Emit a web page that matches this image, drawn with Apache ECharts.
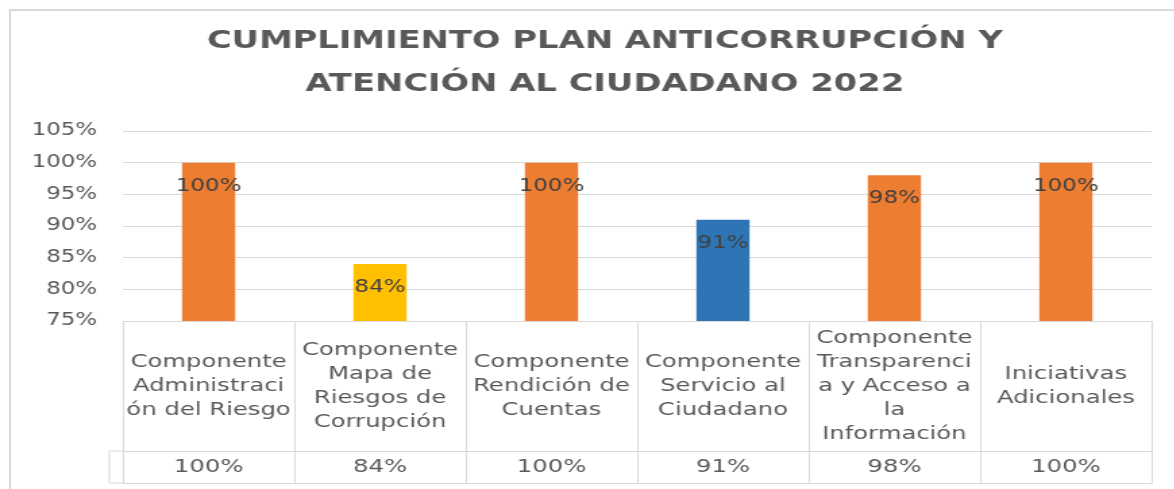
<!DOCTYPE html>
<html lang="es">
<head>
    <meta charset="UTF-8">
    <title>Cumplimiento Plan Anticorrupción</title>
    <script src="https://cdn.jsdelivr.net/npm/echarts@6/dist/echarts.min.js"></script>
    <style>
        html, body { margin: 0; padding: 0; background: #fff; overflow: hidden; }
        #frame {
            position: absolute; left: 9px; top: 9px; width: 1200px; height: 520px;
            border-left: 2px solid #d9d9d9; border-top: 2px solid #d9d9d9;
        }
        /* el original esta estirado a lo ancho */
        #chart {
            position: absolute; left: 0; top: 0; width: 870px; height: 489px;
            transform: scaleX(1.35); transform-origin: 0 0;
        }
    </style>
</head>
<body>
<div id="frame"></div>
<div id="chart"></div>
<script>
    const categories = [
        'Componente\nAdministraci\nón del Riesgo',
        'Componente\nMapa de\nRiesgos de\nCorrupción',
        'Componente\nRendición de\nCuentas',
        'Componente\nServicio al\nCiudadano',
        'Componente\nTransparenci\na y Acceso a\nla\nInformación',
        'Iniciativas\nAdicionales'
    ]
    const values = [100, 84, 100, 91, 98, 100]
    const barColors = ['#ED7D31', '#FFC000', '#ED7D31', '#2E75B6', '#ED7D31', '#ED7D31']
    const valueLabels = values.map(v => v + '%')

    const font = 'DejaVu Sans'
    const grey = '#595959'
    const lineColor = '#d9d9d9'
    // posiciones de la tabla de datos (coordenadas sin escalar)
    const gridLeft = 91, gridRight = 17, gridTop = 131, gridBottom = 168
    const headRow = 130, valueRow = 32, keyCol = 10

    const myChart = echarts.init(document.getElementById('chart'), null, {renderer: 'canvas'})

    const tableTop = 489 - gridBottom
    const option = {
        backgroundColor: 'transparent',
        animation: false,
        title: {
            text: 'CUMPLIMIENTO PLAN ANTICORRUPCIÓN Y\nATENCIÓN AL CIUDADANO 2022',
            left: 443,
            top: 15,
            textAlign: 'center',
            textStyle: {
                fontFamily: font,
                fontWeight: 'bold',
                fontSize: 25,
                lineHeight: 43,
                color: grey
            }
        },
        grid: {left: gridLeft, right: gridRight, top: gridTop, bottom: gridBottom},
        xAxis: [
            {
                type: 'category',
                data: categories,
                position: 'bottom',
                axisLine: {show: true, lineStyle: {color: lineColor}},
                axisTick: {show: true, interval: 0, length: headRow + valueRow, lineStyle: {color: lineColor}},
                axisLabel: {
                    interval: 0,
                    margin: headRow / 2,
                    verticalAlign: 'middle',
                    fontFamily: font,
                    fontSize: 18,
                    lineHeight: 24,
                    color: grey
                }
            },
            {
                type: 'category',
                data: valueLabels,
                position: 'bottom',
                offset: headRow,
                axisLine: {show: true, lineStyle: {color: lineColor}},
                axisTick: {show: false},
                axisLabel: {
                    interval: 0,
                    margin: valueRow / 2,
                    verticalAlign: 'middle',
                    fontFamily: font,
                    fontSize: 18,
                    color: grey
                }
            },
            {
                type: 'category',
                data: valueLabels,
                position: 'bottom',
                offset: headRow + valueRow,
                axisLine: {show: true, lineStyle: {color: lineColor}},
                axisTick: {show: false},
                axisLabel: {show: false}
            }
        ],
        yAxis: {
            type: 'value',
            min: 75,
            max: 105,
            interval: 5,
            axisLine: {show: false},
            axisTick: {show: false},
            splitLine: {lineStyle: {color: lineColor}},
            axisLabel: {
                formatter: '{value}%',
                margin: 19,
                fontFamily: font,
                fontSize: 17,
                color: grey
            }
        },
        series: [{
            type: 'bar',
            xAxisIndex: 0,
            barWidth: '31%',
            data: values.map((v, i) => ({value: v, itemStyle: {color: barColors[i]}})),
            label: {
                show: true,
                position: 'insideTop',
                distance: 15,
                formatter: '{c}%',
                fontFamily: font,
                fontSize: 17,
                color: '#404040'
            }
        }],
        graphic: [
            // columna de la leyenda (vacia) a la izquierda de la fila de valores
            {type: 'line', shape: {x1: gridLeft - keyCol, y1: tableTop + headRow, x2: gridLeft, y2: tableTop + headRow}, style: {stroke: lineColor, lineWidth: 1}},
            {type: 'line', shape: {x1: gridLeft - keyCol, y1: tableTop + headRow + valueRow, x2: gridLeft, y2: tableTop + headRow + valueRow}, style: {stroke: lineColor, lineWidth: 1}},
            {type: 'line', shape: {x1: gridLeft - keyCol, y1: tableTop + headRow, x2: gridLeft - keyCol, y2: tableTop + headRow + valueRow}, style: {stroke: lineColor, lineWidth: 1}}
        ]
    }
    myChart.setOption(option)
</script>
</body>
</html>
